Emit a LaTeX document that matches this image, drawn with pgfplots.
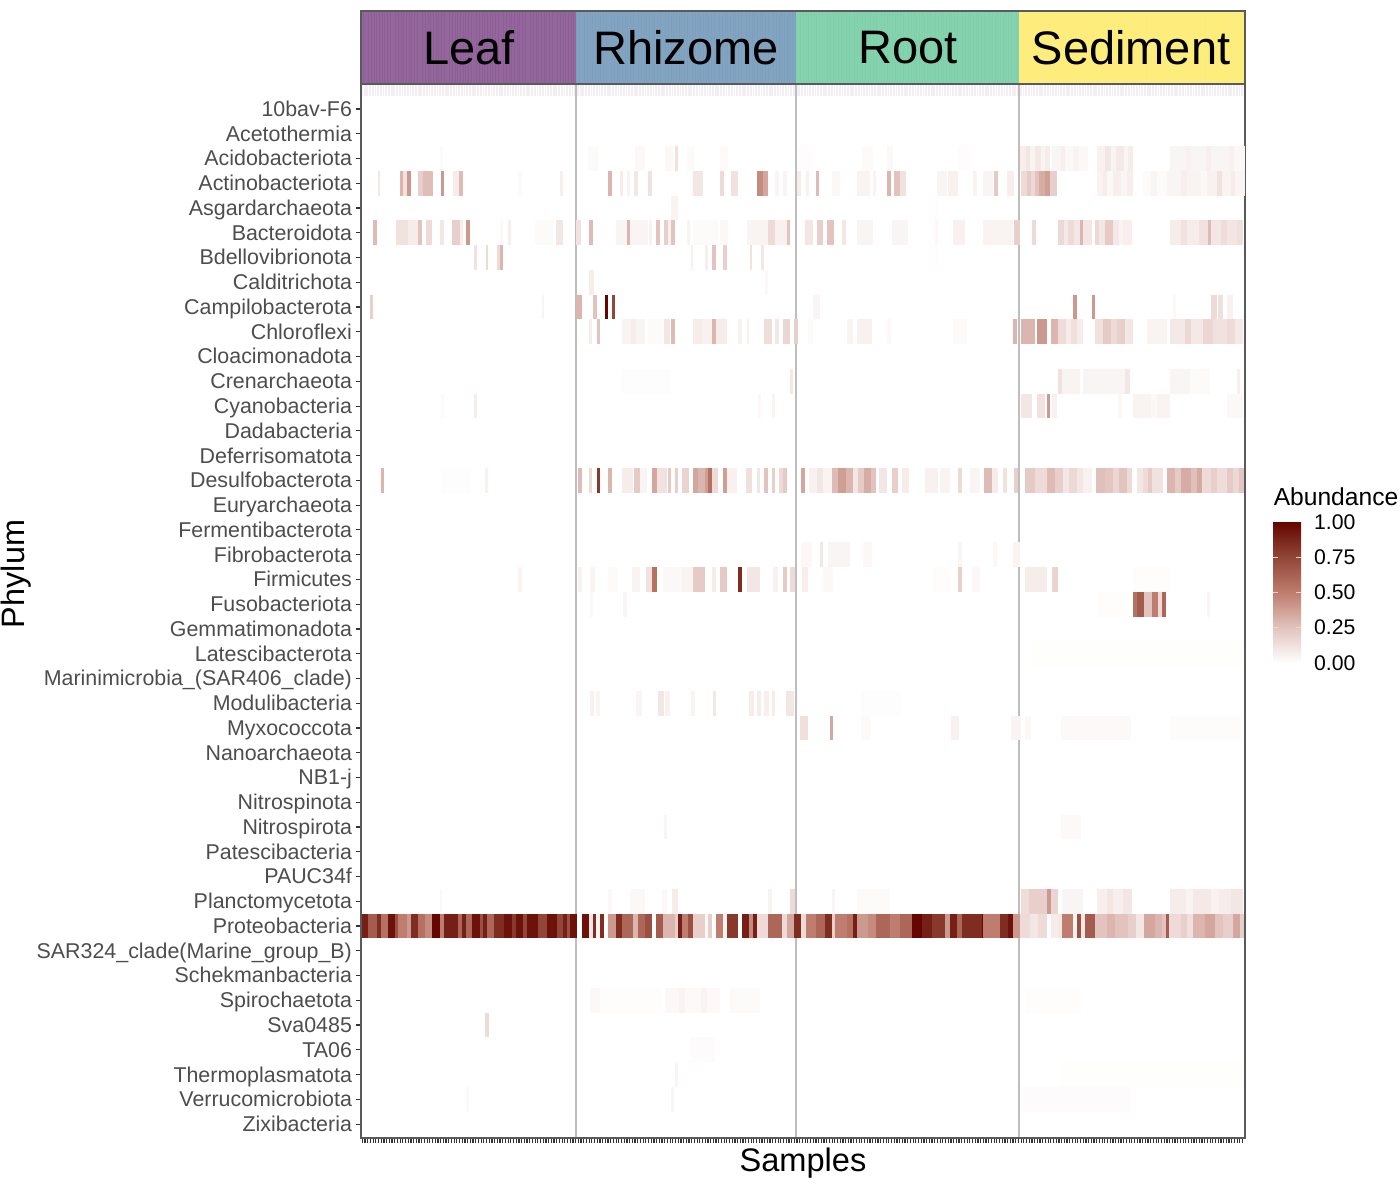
\documentclass[border=0pt]{standalone}
\usepackage{fontspec}
\setmainfont{Liberation Sans}
\usepackage{pgfplots}
\usepackage{pgfplotstable}
\pgfplotsset{compat=1.18}
\definecolor{leafc}{RGB}{142,95,150}
\definecolor{rhizc}{RGB}{125,160,190}
\definecolor{rootc}{RGB}{127,208,170}
\definecolor{sedc}{RGB}{253,237,120}
\definecolor{tickc}{RGB}{77,77,77}
\definecolor{framec}{RGB}{90,90,90}
\definecolor{sepc}{RGB}{190,190,190}
\definecolor{stripec}{RGB}{243,238,243}
% one heatmap cell: as wide as its run of samples (\cellw), as high as a row
\pgfdeclareplotmark{cell}{%
  \pgfpathrectangle{\pgfpoint{-0.5*\cellw pt}{-6.19pt}}{\pgfpoint{\cellw pt}{12.38pt}}%
  \pgfusepathqfill}
% a, b = start and end of a run of samples along the x axis, p = row from the top, v = abundance
\pgfplotstableread{
a b p v
79 82 3 .02
227 237 3 .02
274 284 3 .03
304 312 3 .03
314 317 3 .12
326 333 3 .02
359 367 3 .02
436 452 3 .012
501 512 3 .02
526 532 3 .03
596 609 3 .012
659 665 3 .07
665 669 3 .1
669 674 3 .05
674 680 3 .09
680 684 3 .05
684 689 3 .08
691 700 3 .04
700 704 3 .07
704 712 3 .03
712 718 3 .05
718 727 3 .03
736 744 3 .06
744 750 3 .1
750 755 3 .05
755 763 3 .09
763 767 3 .04
767 772 3 .08
809 825 3 .04
825 830 3 .06
830 845 3 .04
845 850 3 .07
850 868 3 .04
868 873 3 .06
873 884 3 .03
17 19 4 .1
39 42 4 .3
42 46 4 .12
46 50 4 .4
57 62 4 .2
62 72 4 .27
80 83 4 .4
92 98 4 .08
98 102 4 .28
157 161 4 .02
199 202 4 .07
247 251 4 .3
259 262 4 .08
266 269 4 .05
273 277 4 .1
287 291 4 .12
332 342 4 .1
359 363 4 .15
370 377 4 .12
396 402 4 .45
402 407 4 .35
414 418 4 .04
422 426 4 .04
436 440 4 .08
445 448 4 .06
455 458 4 .28
471 479 4 .03
496 509 4 .05
512 515 4 .05
526 530 4 .3
533 539 4 .25
539 545 4 .12
576 586 4 .04
587 597 4 .06
612 616 4 .05
622 632 4 .04
633 637 4 .22
646 653 4 .07
660 666 4 .15
666 670 4 .22
670 674 4 .16
674 678 4 .25
678 684 4 .33
684 689 4 .38
689 696 4 .2
736 742 4 .05
742 746 4 .08
746 752 4 .03
752 760 4 .07
760 766 4 .04
766 772 4 .07
782 790 4 .02
790 796 4 .04
796 806 4 .02
806 820 4 .04
820 826 4 .07
826 840 4 .05
840 846 4 .03
846 856 4 .06
856 861 4 .12
861 870 4 .05
870 874 4 .08
874 884 4 .04
310 317 5 .05
574 578 5 .012
12 16 6 .28
35 47 6 .12
47 57 6 .08
57 61 6 .25
65 71 6 .15
79 83 6 .1
91 99 6 .2
99 102 6 .08
105 109 6 .4
139 142 6 .03
147 150 6 .07
174 192 6 .02
195 202 6 .1
215 220 6 .12
228 232 6 .28
255 266 6 .04
266 269 6 .3
269 287 6 .04
288 291 6 .06
295 299 6 .25
303 307 6 .2
307 310 6 .06
310 314 6 .25
326 329 6 .05
332 357 6 .02
359 367 6 .03
386 391 6 .04
391 407 6 .05
407 414 6 .15
414 426 6 .06
426 429 6 .25
444 452 6 .1
456 462 6 .2
466 473 6 .25
481 485 6 .1
496 512 6 .04
531 547 6 .04
574 577 6 .03
592 604 6 .06
622 652 6 .05
653 659 6 .2
671 675 6 .15
697 703 6 .16
703 707 6 .09
707 713 6 .15
713 719 6 .1
719 722 6 .3
722 731 6 .1
734 738 6 .16
738 744 6 .1
744 752 6 .22
752 758 6 .09
758 762 6 .05
762 771 6 .07
809 820 6 .08
820 826 6 .12
826 838 6 .08
838 847 6 .12
847 850 6 .28
850 860 6 .1
860 866 6 .14
866 876 6 .11
876 882 6 .13
113 116 7 .12
125 127 7 .15
136 139 7 .15
139 142 7 .3
330 332 7 .06
344 347 7 .07
351 355 7 .25
362 366 7 .2
389 391 7 .12
400 403 7 .1
574 578 7 .012
228 233 8 .08
404 407 8 .03
9 12 9 .2
181 183 9 .05
215 221 9 .3
232 236 9 .25
244 247 9 1
251 254 9 .75
452 459 9 .04
712 716 9 .4
731 734 9 .4
812 815 9 .03
850 856 9 .15
857 862 9 .13
866 872 9 .06
228 231 10 .08
236 239 10 .25
261 270 10 .05
270 275 10 .08
275 284 10 .04
287 302 10 .02
303 309 10 .1
310 314 10 .28
332 341 10 .08
341 351 10 .06
351 355 10 .3
355 366 10 .08
377 381 10 .06
386 388 10 .06
403 411 10 .14
414 418 10 .1
422 429 10 .17
433 437 10 .2
447 452 10 .02
486 492 10 .05
496 511 10 .06
526 530 10 .03
592 606 10 .02
652 656 10 .3
660 674 10 .3
676 686 10 .4
690 697 10 .3
697 705 10 .14
705 710 10 .08
710 716 10 .13
716 722 10 .08
734 742 10 .12
742 750 10 .22
750 756 10 .15
756 764 10 .2
764 772 10 .1
786 806 10 .05
809 824 10 .09
824 830 10 .16
830 842 10 .09
842 852 10 .17
852 866 10 .12
866 874 10 .15
874 882 10 .09
429 432 12 .1
260 310 12 .008
697 701 12 .12
701 719 12 .05
722 764 12 .04
764 769 12 .1
809 829 12 .04
829 849 12 .02
876 879 12 .07
80 83 13 .02
113 116 13 .08
397 400 13 .03
411 414 13 .05
660 671 13 .1
676 684 13 .12
686 689 13 .4
691 696 13 .06
757 761 13 .03
772 790 13 .05
790 796 13 .03
796 809 13 .05
866 882 13 .03
20 23 16 .3
80 110 16 .008
124 127 16 .06
217 221 16 .28
228 231 16 .15
236 239 16 .8
247 251 16 .3
261 272 16 .08
273 279 16 .22
279 286 16 .04
291 296 16 .35
296 306 16 .12
307 310 16 .22
314 317 16 .2
321 328 16 .18
332 337 16 .35
337 344 16 .3
344 347 16 .38
347 351 16 .55
351 357 16 .15
362 366 16 .38
366 376 16 .06
385 391 16 .13
396 399 16 .1
403 407 16 .25
411 414 16 .2
418 422 16 .15
422 426 16 .22
440 444 16 .35
448 456 16 .06
456 462 16 .1
462 471 16 .05
471 477 16 .28
477 485 16 .38
485 492 16 .3
492 497 16 .1
497 503 16 .22
503 510 16 .33
510 515 16 .25
518 526 16 .1
531 537 16 .2
541 548 16 .08
564 577 16 .06
579 589 16 .05
597 601 16 .15
609 619 16 .04
623 631 16 .28
631 637 16 .08
642 646 16 .12
653 657 16 .2
664 674 16 .22
674 686 16 .15
686 694 16 .28
694 702 16 .2
702 708 16 .1
708 716 16 .16
716 722 16 .1
722 731 16 .06
735 744 16 .26
744 752 16 .24
752 758 16 .17
758 766 16 .25
766 771 16 .15
776 782 16 .1
782 787 16 .15
787 791 16 .22
791 802 16 .12
806 814 16 .3
814 820 16 .22
820 830 16 .33
830 836 16 .26
836 841 16 .34
841 850 16 .15
850 856 16 .2
856 866 16 .14
866 872 16 .22
872 878 16 .16
878 883 16 .24
440 451 19 .03
459 462 19 .1
467 489 19 .04
502 511 19 .03
597 601 19 .04
632 636 19 .03
652 659 19 .05
157 161 20 .05
217 221 20 .06
229 234 20 .05
247 257 20 .02
271 279 20 .05
285 291 20 .12
291 296 20 .55
302 321 20 .03
321 332 20 .05
332 344 20 .22
351 355 20 .08
359 366 20 .22
377 381 20 .85
386 399 20 .1
412 417 20 .06
422 426 20 .22
429 434 20 .15
441 447 20 .07
462 472 20 .03
572 589 20 .01
597 601 20 .2
611 619 20 .03
664 686 20 .08
691 697 20 .18
772 809 20 .01
229 232 21 .03
262 266 21 .04
736 769 21 .01
772 776 21 .55
776 783 21 .65
783 791 21 .25
791 797 21 .5
797 801 21 .15
801 805 21 .6
846 849 21 .04
670 880 23 .006
229 233 25 .06
235 239 25 .04
275 281 25 .04
297 303 25 .1
304 309 25 .06
330 334 25 .05
352 355 25 .1
388 393 25 .08
396 400 25 .08
403 408 25 .07
411 414 25 .08
425 433 25 .1
500 540 25 .008
439 447 26 .13
469 472 26 .35
500 510 26 .02
590 598 26 .06
650 660 26 .04
664 670 26 .03
700 770 26 .025
809 880 26 .014
303 306 30 .04
700 720 30 .025
79 81 33 .03
247 251 33 .03
269 284 33 .03
301 306 33 .03
311 317 33 .08
407 411 33 .05
429 434 33 .15
471 474 33 .04
496 529 33 .02
660 668 33 .14
668 676 33 .2
676 686 33 .2
686 690 33 .4
690 697 33 .17
701 722 33 .04
736 746 33 .07
746 752 33 .11
752 762 33 .07
762 771 33 .1
809 825 33 .08
825 832 33 .05
832 850 33 .09
850 858 33 .06
858 870 33 .08
870 882 33 .1
1 7 34 .9
7 16 34 .65
16 20 34 .85
20 27 34 .55
27 34 34 .95
34 37 34 .7
37 46 34 .5
46 50 34 .4
50 57 34 .85
57 64 34 .55
64 71 34 .45
71 79 34 1
79 83 34 .5
83 97 34 .9
97 101 34 .6
101 105 34 .9
105 111 34 .6
111 119 34 .95
119 122 34 .7
122 126 34 .9
126 133 34 .6
133 143 34 .85
143 151 34 .95
151 155 34 .8
155 162 34 .95
162 166 34 .75
166 177 34 .95
177 186 34 .75
186 196 34 .95
196 202 34 .75
202 206 34 .9
206 209 34 .7
209 216 34 .95
221 228 34 .95
228 232 34 .1
232 235 34 .85
235 239 34 .05
239 243 34 .85
247 255 34 .4
255 261 34 .85
261 272 34 .6
272 277 34 .3
277 284 34 .6
284 291 34 .7
295 302 34 .65
302 314 34 .3
314 317 34 .2
317 321 34 .9
321 327 34 .5
327 332 34 .7
332 344 34 .2
344 347 34 .03
347 351 34 .2
355 362 34 .5
362 366 34 .05
366 377 34 .8
381 388 34 .9
388 392 34 .45
392 396 34 .9
396 407 34 .15
407 421 34 .6
421 426 34 .15
426 433 34 .35
433 440 34 .85
440 445 34 .15
445 455 34 .5
455 464 34 .6
464 471 34 .85
471 474 34 .2
474 486 34 .5
486 492 34 .55
492 496 34 .9
496 507 34 .4
507 515 34 .45
515 529 34 .6
529 539 34 .5
539 551 34 .6
551 561 34 1
561 571 34 .9
571 584 34 .8
584 589 34 .4
589 596 34 .9
596 601 34 .6
601 621 34 .85
621 622 34 1
622 639 34 .5
639 647 34 .85
647 652 34 .95
652 659 34 .4
659 669 34 .15
669 677 34 .1
677 686 34 .15
690 697 34 .08
697 701 34 .1
701 712 34 .5
712 716 34 .05
716 720 34 .7
720 724 34 .1
724 734 34 .65
734 746 34 .25
746 754 34 .3
754 767 34 .25
767 775 34 .2
775 783 34 .1
783 794 34 .35
794 801 34 .3
801 805 34 .25
805 808 34 .65
808 820 34 .15
820 826 34 .2
826 832 34 .13
832 844 34 .3
844 854 34 .35
854 862 34 .25
862 872 34 .2
872 879 34 .35
879 883 34 .2
229 239 37 .03
239 300 37 .01
304 318 37 .03
318 324 37 .05
324 340 37 .025
340 346 37 .05
346 359 37 .025
369 399 37 .02
664 720 37 .01
124 128 38 .15
329 354 39 .015
314 317 40 .04
700 880 40 .006
105 108 41 .03
310 313 41 .04
659 770 41 .015
}\cells
\begin{document}
\begin{tikzpicture}
\useasboundingbox (0,0) rectangle (700pt,593pt);

% strip with the sample groups
\begin{axis}[
  at={(180.5pt,551pt)}, anchor=south west,
  scale only axis, width=442pt, height=36.5pt,
  xmin=0, xmax=884, ymin=0, ymax=1,
  xtick=\empty, ytick=\empty,
  axis line style={framec, line width=.6pt},
  axis on top,
]
\addplot[fill=leafc, draw=none] coordinates {(0,0) (215,0) (215,1) (0,1)} \closedcycle;
\addplot[fill=rhizc, draw=none] coordinates {(215,0) (435,0) (435,1) (215,1)} \closedcycle;
\addplot[fill=rootc, draw=none] coordinates {(435,0) (658,0) (658,1) (435,1)} \closedcycle;
\addplot[fill=sedc, draw=none] coordinates {(658,0) (884,0) (884,1) (658,1)} \closedcycle;
\addplot[white, opacity=.05, line width=36.5pt, dash pattern=on .9pt off .45pt] coordinates {(0,.5) (884,.5)};
\node[font=\fontsize{23.5}{26}\selectfont] at (axis cs:108,.5) {Leaf};
\node[font=\fontsize{23.5}{26}\selectfont] at (axis cs:325,.5) {Rhizome};
\node[font=\fontsize{23.5}{26}\selectfont] at (axis cs:547,.5) {Root};
\node[font=\fontsize{23.5}{26}\selectfont] at (axis cs:770,.5) {Sediment};
\end{axis}

\begin{axis}[
  at={(180.5pt,24pt)}, anchor=south west,
  scale only axis, width=442pt, height=527pt,
  xmin=0, xmax=884, ymin=0.44, ymax=43.01,
  xtick={1.35,4.05,...,884}, xticklabels={},
  ytick={1,...,42},
  yticklabels={Zixibacteria,Verrucomicrobiota,Thermoplasmatota,TA06,Sva0485,Spirochaetota,Schekmanbacteria,SAR324\_clade(Marine\_group\_B),Proteobacteria,Planctomycetota,PAUC34f,Patescibacteria,Nitrospirota,Nitrospinota,NB1-j,Nanoarchaeota,Myxococcota,Modulibacteria,Marinimicrobia\_(SAR406\_clade),Latescibacterota,Gemmatimonadota,Fusobacteriota,Firmicutes,Fibrobacterota,Fermentibacterota,Euryarchaeota,Desulfobacterota,Deferrisomatota,Dadabacteria,Cyanobacteria,Crenarchaeota,Cloacimonadota,Chloroflexi,Campilobacterota,Calditrichota,Bdellovibrionota,Bacteroidota,Asgardarchaeota,Actinobacteriota,Acidobacteriota,Acetothermia,10bav-F6},
  tick pos=left, tick align=outside,
  major tick length=2.5pt,
  tick style={black!80, line width=.6pt},
  typeset ticklabels with strut,
  y tick label style={font=\fontsize{10.7}{12}\selectfont, text=tickc, xshift=1.5pt, yshift=-1.3pt},
  axis line style={framec, line width=.6pt},
  axis on top,
  clip=true,
  colormap={abund}{rgb255=(255,255,255) rgb255=(226,195,190) rgb255=(190,125,110) rgb255=(145,70,55) rgb255=(100,5,0)},
  point meta min=0, point meta max=1,
  colorbar,
  colorbar style={
    at={(1.0317,0.4507)}, anchor=south west,
    scale only axis, width=14pt, height=70.5pt,
    ytick={0.25,0.5,0.75},
    extra y ticks={0,1}, extra tick style={major tick length=0pt},
    tick pos=both, yticklabel pos=right,
    tick align=inside, major tick length=2.5pt,
    tick style={white!80!red, line width=.4pt},
    axis line style={draw=none},
    y tick label style={font=\fontsize{10.6}{12}\selectfont, text=black, xshift=3pt, yshift=0pt,
      /pgf/number format/fixed, /pgf/number format/fixed zerofill,
      /pgf/number format/precision=2, /pgf/number format/assume math mode=true},
  },
]
\addplot[stripec, line width=6pt, dash pattern=on .9pt off .45pt] coordinates {(0,42.76) (884,42.76)};
\addplot[
  scatter, only marks, mark=cell,
  point meta=\thisrow{v},
  scatter/use mapped color={draw=mapped color, fill=mapped color},
  visualization depends on={(\thisrow{b}-\thisrow{a})*0.5+0.06 \as \cellw},
] table[x expr={(\thisrow{a}+\thisrow{b})/2}, y expr={43-\thisrow{p}}] {\cells};
\addplot[sepc, line width=.8pt] coordinates {(215,0.44) (215,43.01)};
\addplot[sepc, line width=.8pt] coordinates {(435,0.44) (435,43.01)};
\addplot[sepc, line width=.8pt] coordinates {(658,0.44) (658,43.01)};
\end{axis}

\node[rotate=90, inner sep=0pt, font=\fontsize{16.2}{18}\selectfont] at (8pt,306pt) {Phylum};
\node[font=\fontsize{16.3}{18}\selectfont] at (401.5pt,11.5pt) {Samples};
\node[font=\fontsize{12.3}{14}\selectfont] at (668pt,344.5pt) {Abundance};
\end{tikzpicture}
\end{document}
